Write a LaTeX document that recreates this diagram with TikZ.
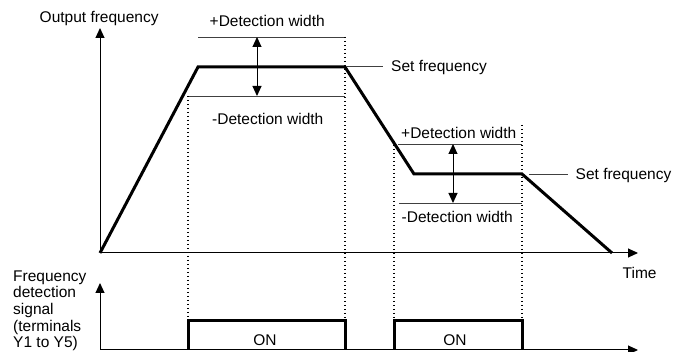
\documentclass[tikz,border=0pt]{standalone}
\usepackage{fontspec}
\setmainfont{Liberation Sans}
\usetikzlibrary{arrows.meta}

\begin{document}
\begin{tikzpicture}[x=1pt, y=-1pt, >={Triangle[length=10pt,width=9pt]},
  axis/.style={line width=1pt, ->},
  sig/.style={line width=3pt, line join=miter},
  band/.style={line width=0.9pt, black!75},
  guide/.style={line width=1.1pt, dash pattern=on 1.5pt off 2.5pt},
  lbl/.style={font=\fontsize{15.5}{16.6}\selectfont, inner sep=0pt, anchor=base west}]
  \useasboundingbox (0,0) rectangle (686,352);
  % axes
  \coordinate (o1) at (100,253);
  \coordinate (o2) at (100,350);
  \draw[axis] (o1) -- (100,28);
  \draw[axis] (o1) -- (638,253);
  \draw[axis] (o2) -- (100,283);
  \draw[axis] (o2) -- (638,350);
  % output frequency
  \draw[sig] (o1) -- (198,67) -- (345,67) -- (414,174) -- (522,174) -- (612,253);
  % detection widths
  \draw[band] (198,37) -- (345,37);
  \draw[band] (188,96) -- (345,96);
  \draw[<->, line width=1pt] (257,37) -- (257,96);
  \draw[band] (398,144) -- (522,144);
  \draw[band] (399,203) -- (522,203);
  \draw[<->, line width=1pt] (453,144) -- (453,203);
  \draw[band] (346,66) -- (383,66);
  \draw[band] (529,174) -- (568,174);
  % guides
  \draw[guide] (188,96) -- (188,321);
  \draw[guide] (345,37) -- (345,321);
  \draw[guide] (394,141) -- (394,321);
  \draw[guide] (522,125) -- (522,321);
  % detection signal
  \draw[sig] (188,350) -- (188,321) -- (345,321) -- (345,350);
  \draw[sig] (394,350) -- (394,321) -- (522,321) -- (522,350);
  % labels
  \node[lbl] (fout) at (39.5,22.5) {Output frequency};
  \node[lbl] (plus1) at (209.5,26.5) {+Detection width};
  \node[lbl] (minus1) at (212,125) {-Detection width};
  \node[lbl] (set1) at (391,71.5) {Set frequency};
  \node[lbl] (plus2) at (401,139) {+Detection width};
  \node[lbl] (minus2) at (401.5,223) {-Detection width};
  \node[lbl] (set2) at (575.5,180) {Set frequency};
  \node[lbl] (time) at (622.5,279) {Time};
  \node[lbl, anchor=north west, align=left] (fdet) at (13,270.5)
    {Frequency\\detection\\signal\\(terminals\\Y1 to Y5)};
  \node[lbl, anchor=base] (on1) at (265,346) {ON};
  \node[lbl, anchor=base] (on2) at (455,346) {ON};
\end{tikzpicture}
\end{document}
